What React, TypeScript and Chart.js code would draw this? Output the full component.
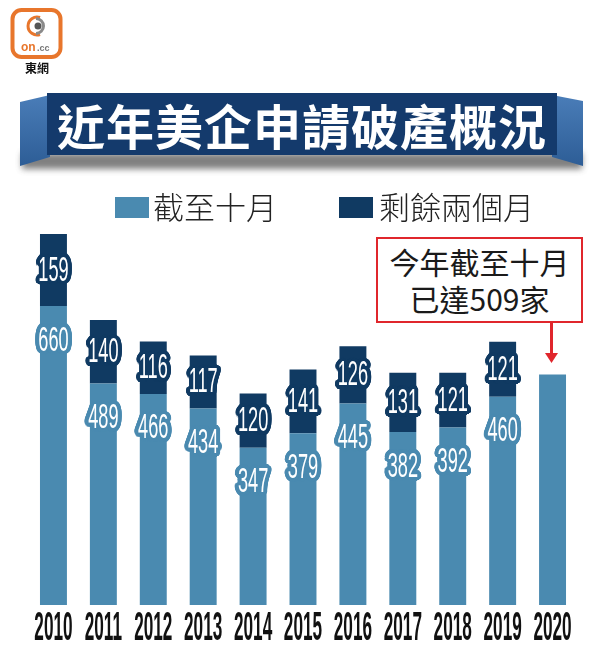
import React, { useEffect, useRef } from "react";
import { Chart, registerables } from "chart.js";

Chart.register(...registerables);

// ---- data ----
const years = ["2010", "2011", "2012", "2013", "2014", "2015", "2016", "2017", "2018", "2019", "2020"];
const toOctober = [660, 489, 466, 434, 347, 379, 445, 382, 392, 460, 509];
const lastTwoMonths = [159, 140, 116, 117, 120, 141, 126, 131, 121, 121, null];
const seriesNames = ["截至十月", "剩餘兩個月"];
const titleText = "近年美企申請破產概況";
const noteLines = ["今年截至十月", "已達509家"];

const LIGHT = "#4a8ab0";
const DARK = "#103a62";
const RED = "#e0262c";

function drawOutlined(ctx: CanvasRenderingContext2D, text: string, x: number, cy: number, outline: string) {
  const size = 35;
  const sx = 0.52;
  const by = cy + 0.358 * size;
  ctx.save();
  ctx.font = `${size}px 'Liberation Sans', Arial, sans-serif`;
  ctx.textAlign = "center";
  ctx.textBaseline = "alphabetic";
  ctx.fillStyle = outline;
  for (const r of [2, 3, 4]) {
    for (let a = 0; a < 24; a++) {
      const ang = (a / 24) * Math.PI * 2;
      ctx.save();
      ctx.translate(x + Math.cos(ang) * r, by + Math.sin(ang) * r);
      ctx.scale(sx, 1);
      ctx.fillText(text, 0, 0);
      ctx.restore();
    }
  }
  ctx.fillStyle = "#ffffff";
  ctx.save();
  ctx.translate(x, by);
  ctx.scale(sx, 1);
  ctx.fillText(text, 0, 0);
  ctx.restore();
  ctx.restore();
}

const barLabelPlugin = {
  id: "barLabels",
  afterDatasetsDraw(chart: any) {
    const ctx = chart.ctx as CanvasRenderingContext2D;
    chart.data.datasets.forEach((ds: any, di: number) => {
      const meta = chart.getDatasetMeta(di);
      meta.data.forEach((el: any, i: number) => {
        const v = ds.data[i];
        if (v == null) return;
        // partial year (no remaining-months value) carries no inner label
        if (di === 0 && lastTwoMonths[i] == null) return;
        const { x, y, base } = el.getProps(["x", "y", "base"], true);
        const cy = di === 0 ? y + 32 : (y + base) / 2 - 2;
        drawOutlined(ctx, String(v), x, cy, di === 0 ? LIGHT : DARK);
      });
    });
  },
};

const xLabelPlugin = {
  id: "xLabels",
  afterDraw(chart: any) {
    const ctx = chart.ctx as CanvasRenderingContext2D;
    const xs = chart.scales.x;
    const size = 40;
    ctx.save();
    ctx.font = `bold ${size}px 'Liberation Sans', Arial, sans-serif`;
    ctx.textAlign = "center";
    ctx.textBaseline = "alphabetic";
    ctx.fillStyle = "#111111";
    chart.data.labels.forEach((lab: string, i: number) => {
      const x = xs.getPixelForValue(i);
      ctx.save();
      ctx.translate(x, 640);
      ctx.scale(0.43, 1);
      ctx.fillText(lab, 0, 0);
      ctx.restore();
    });
    ctx.restore();
  },
};

function BarChart() {
  const ref = useRef<HTMLCanvasElement | null>(null);
  useEffect(() => {
    if (!ref.current) return;
    const chart = new Chart(ref.current, {
      type: "bar",
      data: {
        labels: years,
        datasets: [
          { label: seriesNames[0], data: toOctober, backgroundColor: LIGHT, borderWidth: 0 },
          { label: seriesNames[1], data: lastTwoMonths as any, backgroundColor: DARK, borderWidth: 0 },
        ],
      },
      options: {
        animation: false,
        responsive: false,
        devicePixelRatio: 1,
        layout: { padding: { left: 28.5, right: 22.5, top: 220, bottom: 42 } },
        datasets: { bar: { categoryPercentage: 1, barPercentage: 0.54 } } as any,
        plugins: { legend: { display: false }, tooltip: { enabled: false }, title: { display: false } },
        scales: {
          x: { stacked: true, display: false, grid: { display: false } },
          y: { stacked: true, display: false, min: 0, max: 850 },
        },
      },
      plugins: [barLabelPlugin, xLabelPlugin],
    });
    return () => chart.destroy();
  }, []);
  return <canvas ref={ref} width={600} height={647} style={{ position: "absolute", left: 0, top: 0, width: 600, height: 647 }} />;
}

const cjk = "'Noto Sans CJK TC', 'Noto Sans CJK SC', sans-serif";

export default function App() {
  return (
    <div style={{ position: "absolute", left: 0, top: 0, width: 600, height: 647, background: "#fff", overflow: "hidden" }}>
      <BarChart />
      {/* banner decorations */}
      <svg width={600} height={200} style={{ position: "absolute", left: 0, top: 0 }}>
        <defs>
          <filter id="blur" x="-10%" y="-50%" width="120%" height="200%">
            <feGaussianBlur stdDeviation="3" />
          </filter>
          <linearGradient id="flapL" x1="0" y1="0" x2="0" y2="1">
            <stop offset="0" stopColor="#4a7db8" />
            <stop offset="1" stopColor="#2d5d96" />
          </linearGradient>
        </defs>
        <rect x={22} y={153} width={560} height={16} fill="#555" opacity={0.75} filter="url(#blur)" />
        <polygon points="20,102 50,95 50,157 20,166" fill="url(#flapL)" />
        <polygon points="552,95 583,101 583,166 552,157" fill="url(#flapL)" />
        {/* logo */}
        <rect x={12.5} y={10} width={48} height={47} rx={9} fill="#fff" stroke="#e8762c" strokeWidth={4} />
        <path d="M 40 17.5 A 9 9 0 1 0 40 34.5" stroke="#e8762c" strokeWidth={3} fill="none" />
        <path d="M 36 18.5 A 7.5 7.5 0 0 1 36 33.5" stroke="#8a8a8a" strokeWidth={3} fill="none" />
        <circle cx={38} cy={26} r={3.5} fill="#555" />
        <text x={21} y={51} fontFamily="'Liberation Sans', Arial" fontWeight="bold" fontSize={12} fill="#e8762c">on</text>
        <text x={37} y={51} fontFamily="'Liberation Sans', Arial" fontWeight="bold" fontSize={9} fill="#777">.cc</text>
      </svg>
      <div style={{ position: "absolute", left: 17, top: 61, width: 40, textAlign: "center", fontFamily: cjk, fontWeight: 700, fontSize: 12, lineHeight: "13px", color: "#111" }}>東網</div>
      <div
        style={{
          position: "absolute",
          left: 47,
          top: 93,
          width: 510,
          height: 62,
          background: "#143a6c",
          color: "#fff",
          fontFamily: cjk,
          fontWeight: 700,
          fontSize: 48,
          letterSpacing: 1,
          display: "flex",
          alignItems: "center",
          justifyContent: "center",
          lineHeight: "62px",
        }}
      >
        {titleText}
      </div>
      {/* legend */}
      <div style={{ position: "absolute", left: 115, top: 197, width: 34, height: 21, background: LIGHT }} />
      <div style={{ position: "absolute", left: 153, top: 190, fontFamily: cjk, fontWeight: 300, fontSize: 31, lineHeight: "31px", color: "#222", whiteSpace: "nowrap" }}>{seriesNames[0]}</div>
      <div style={{ position: "absolute", left: 339, top: 197, width: 34, height: 21, background: DARK }} />
      <div style={{ position: "absolute", left: 379, top: 190, fontFamily: cjk, fontWeight: 300, fontSize: 31, lineHeight: "31px", color: "#222", whiteSpace: "nowrap" }}>{seriesNames[1]}</div>
      {/* annotation */}
      <div
        style={{
          position: "absolute",
          left: 376,
          top: 237,
          width: 203,
          height: 82,
          border: `2px solid ${RED}`,
          background: "#fff",
          fontFamily: cjk,
          fontWeight: 400,
          fontSize: 30,
          lineHeight: "37px",
          color: "#1a1a1a",
          textAlign: "center",
          display: "flex",
          flexDirection: "column",
          justifyContent: "center",
        }}
      >
        {noteLines.map((l) => (
          <div key={l}>{l}</div>
        ))}
      </div>
      <svg width={600} height={647} style={{ position: "absolute", left: 0, top: 0, pointerEvents: "none" }}>
        <line x1={551.5} y1={323} x2={551.5} y2={355} stroke={RED} strokeWidth={3} />
        <polygon points="545,353 558,353 551.5,363" fill={RED} />
      </svg>
    </div>
  );
}
